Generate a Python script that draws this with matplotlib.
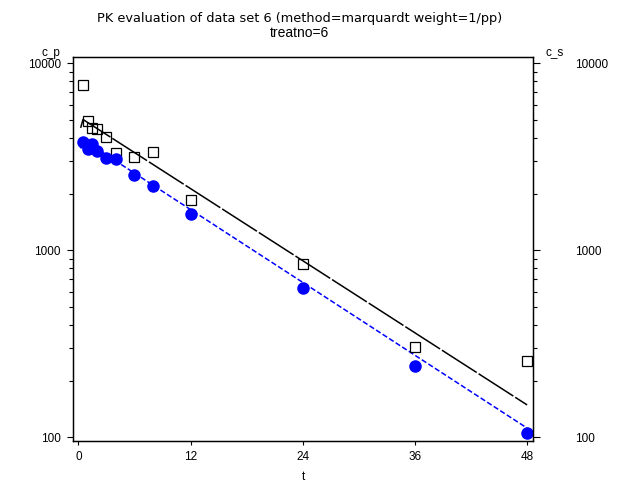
import numpy as np
import matplotlib
matplotlib.use('Agg')
import matplotlib.pyplot as plt
import matplotlib.ticker as ticker

plt.rcParams['font.family'] = ['Liberation Sans', 'DejaVu Sans']

# observed data (time in h)
t_obs = [0.5, 1, 1.5, 2, 3, 4, 6, 8, 12, 24, 36, 48]
c_p = [7670, 4890, 4520, 4430, 4015, 3330, 3150, 3350, 1870, 844, 306, 256]
c_s = [3790, 3465, 3715, 3400, 3130, 3065, 2530, 2208, 1560, 628, 242, 105]

# fitted curves
t_fit = [0.25, 0.5, 48]
fit_p = [4520, 5010, 149]
fit_s = [3510, 3905, 112]

x_ticks = [0, 12, 24, 36, 48]
y_ticks = [100, 1000, 10000]

fig = plt.figure(figsize=(6.22, 4.83), dpi=100)
ax = fig.add_axes([0.1169, 0.0863, 0.7405, 0.7964])

ax.plot(t_fit, fit_p, color='black', lw=1.1, dashes=(27, 1.5))
ax.plot(t_fit, fit_s, color='#0000ff', lw=1.1, dashes=(3.5, 1.6))
ax.plot(t_obs, c_p, ls='none', marker='s', ms=7.5, mfc='none', mec='black', mew=0.9)
ax.plot(t_obs, c_s, ls='none', marker='o', ms=8, mfc='#0000ff', mec='#0000ff')

ax.set_yscale('log')
ax.set_xlim(-0.6, 48.66)
ax.set_ylim(95.2, 10860)
ax.set_xticks(x_ticks)
ax.set_yticks(y_ticks)
ax.yaxis.set_major_formatter(ticker.FuncFormatter(lambda v, p: '%d' % v))
ax.yaxis.set_minor_formatter(ticker.NullFormatter())
ax.tick_params(axis='x', length=3, width=0.8, labelsize=8.5, pad=4)
ax.tick_params(axis='y', which='major', length=4.5, width=0.8, labelsize=8.5, pad=4)
ax.tick_params(axis='y', which='minor', length=3, width=0.8)
for s in ax.spines.values():
    s.set_linewidth(1.0)

ax2 = ax.twinx()
ax2.set_yscale('log')
ax2.set_ylim(95.2, 10860)
ax2.set_yticks(y_ticks)
ax2.yaxis.set_major_formatter(ticker.FuncFormatter(lambda v, p: '%d' % v))
ax2.yaxis.set_minor_formatter(ticker.NullFormatter())
ax2.tick_params(axis='y', which='major', length=5, width=0.8, labelsize=8.5, pad=25)
ax2.tick_params(axis='y', which='minor', length=3, width=0.8)

ax.set_xlabel('t', fontsize=8.5, labelpad=6)
fig.text(0.082, 0.89, 'c_p', fontsize=8.5, ha='center', va='center')
fig.text(0.891, 0.892, 'c_s', fontsize=8.5, ha='center', va='center')
fig.text(0.482, 0.961, 'PK evaluation of data set 6 (method=marquardt weight=1/pp)',
         fontsize=9.3, ha='center', va='center', family='DejaVu Sans')
fig.text(0.482, 0.932, 'treatno=6', fontsize=10, ha='center', va='center')

fig.savefig('out.png', dpi=100)
